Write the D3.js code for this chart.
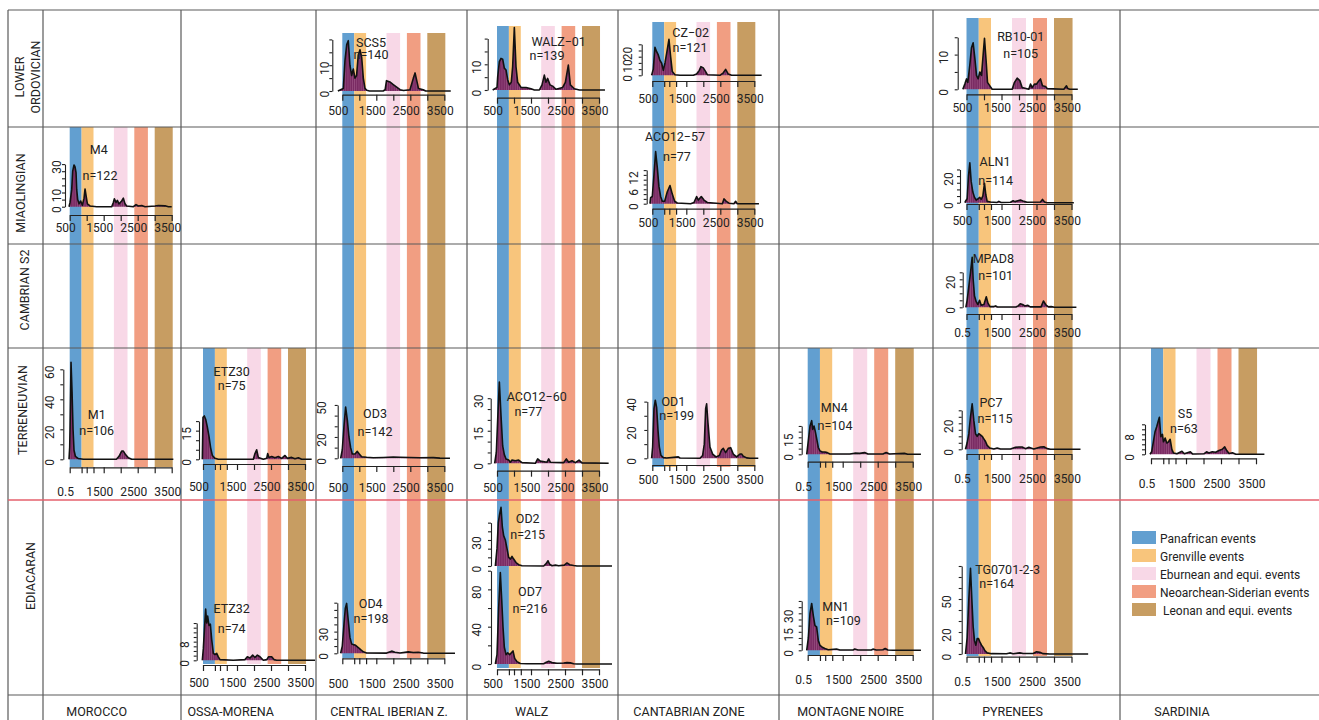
<!DOCTYPE html>
<html>
<head>
<meta http-equiv="Content-Type" content="text/html; charset=UTF-8">
<script src="https://cdn.jsdelivr.net/npm/d3@7"></script>
<style>
  html, body { margin: 0; padding: 0; background: #fff; }
  svg { display: block; font-family: Roboto, 'Open Sans', sans-serif; }
</style>
<title>Detrital zircon age spectra</title>
</head>
<body>
<script>
var W = 1319, H = 720;

// ---------------- data ----------------
var regions = ["MOROCCO", "OSSA-MORENA", "CENTRAL IBERIAN Z.", "WALZ", "CANTABRIAN ZONE", "MONTAGNE NOIRE", "PYRENEES", "SARDINIA"];
var periods = [["LOWER", "ORDOVICIAN"], ["MIAOLINGIAN"], ["CAMBRIAN S2"], ["TERRENEUVIAN"], ["EDIACARAN"]];
var events = ["Panafrican events", "Grenville events", "Eburnean and equi. events", "Neoarchean-Siderian events", " Leonan and equi. events"];
var eventRanges = [[500, 850], [850, 1200], [1800, 2200], [2400, 2800], [3000, 3530]];
var xTickValues = [500, 1000, 1500, 2000, 2500, 3000, 3500];
var xTickExtra = [850, 1200];
var xLabelValues = [500, 1500, 2500, 3500];

var sampleNames = ["SCS5", "WALZ\u221201", "CZ\u221202", "RB10-01", "M4", "ACO12\u221257", "ALN1", "MPAD8", "M1", "ETZ30", "OD3",
  "ACO12\u221260", "OD1", "MN4", "PC7", "S5", "ETZ32", "OD4", "OD2", "OD7", "MN1", "TG0701-2-3"];
var sampleN = [140, 139, 121, 105, 122, 77, 114, 101, 106, 75, 142, 77, 199, 104, 115, 63, 74, 198, 215, 216, 109, 164];
var xFirstLabel = ["500", "500", "500", "500", "500", "500", "500", "0.5", "0.5", "500", "500",
  "500", "500", "0.5", "0.5", "0.5", "500", "500", "500", "500", "0.5", "0.5"];
var yTickStep = [5, 5, 5, 5, 5, 2, 5, 5, 10, 5, 10, 5, 10, 5, 5, 2, 2, 10, 10, 20, 5, 10];
var yTickMax = [20, 20, 25, 15, 30, 14, 25, 25, 60, 20, 50, 30, 40, 25, 30, 12, 16, 70, 50, 100, 40, 80];
var yTickLabels = [[0, 10], [0, 10], [0, 10, 20], [0, 10], [0, 10, 30], [0, 6, 12], [0, 20], [0, 20], [0, 20, 40, 60], [0, 15], [0, 20, 50],
  [0, 15, 30], [0, 20, 40], [0, 15], [0, 20], [0, 8], [0, 8], [0, 30], [0, 30], [0, 40, 80], [0, 15, 30], [0, 20, 50]];

// age (Ma), probability density (as plotted)
var kdeSCS5 = [[370,0],[530,1],[580,12],[630,18],[676,19.5],[725,10],[775,6],[824,8.5],[873,5],[920,6],[970,14],[1020,16],[1070,13],[1118,5],[1167,1],[1220,0.3],[1300,0],[1700,0],[1760,0.5],[1800,4],[1900,3.5],[2000,2.5],[2100,1.5],[2200,0.5],[2300,0.2],[2490,0.5],[2590,5],[2640,7],[2690,4],[2740,1],[2880,0.5],[2950,0],[3690,0]];
var kdeWALZ01 = [[373,0],[500,1],[520,5],[569,11],[618,12.3],[667,12],[716,8.5],[765,7.8],[814,4],[863,2],[920,3],[960,9],[1010,24.3],[1059,9],[1108,3],[1206,1],[1353,1],[1500,0.5],[1600,0],[1745,0],[1824,2],[1892,5.8],[1941,3],[1990,4.5],[2059,2],[2137,1.5],[2235,0.3],[2431,1],[2510,3],[2598,9.7],[2657,2],[2775,0.5],[2922,0],[3676,0]];
var kdeCZ02 = [[480,0],[529,5],[578,22.6],[627,19],[676,16.4],[725,12],[775,9.7],[824,4],[873,10],[922,17.7],[990,29],[1039,15],[1088,3],[1167,0.5],[1314,0],[1706,0],[1804,1],[1882,4],[1931,7],[2000,6],[2069,3],[2118,0.5],[2490,0],[2588,2],[2657,4.8],[2735,1],[2833,0],[3716,0]];
var kdeRB1001 = [[395,0],[452,1.5],[500,3],[538,2],[595,7],[643,12],[690,13.4],[738,9],[786,4],[833,3],[881,5],[929,4],[976,10],[1014,14.7],[1062,8],[1100,2],[1167,1],[1233,0],[1805,0],[1871,2],[1948,3.2],[2024,2.5],[2090,0.5],[2280,0],[2330,1.5],[2376,0.5],[2443,1.5],[2500,1.5],[2557,2.3],[2614,3],[2671,1],[2757,0.8],[2805,0.2],[3281,0],[3357,1],[3395,0.2],[3450,0],[3680,0]];
var kdeM4 = [[480,0],[510,3],[559,12],[588,25],[627,29.4],[657,28],[686,24],[706,12],[735,5],[775,2],[824,4],[873,1],[922,6],[951,12.5],[980,8],[1020,2],[1098,0.5],[1294,0],[1735,0],[1784,3],[1814,5.6],[1863,3],[1902,4.5],[1951,2],[2029,4],[2078,6],[2127,2],[2176,0.5],[2373,0],[2451,1.5],[2520,0.5],[2618,0.8],[2716,0],[3010,0.5],[3108,0.8],[3304,0.6],[3402,0],[3500,0]];
var kdeACO1257 = [[431,0],[451,2.5],[500,3],[549,12],[598,21.7],[647,15],[696,7],[745,3],[794,1],[863,1],[941,5],[1020,7.6],[1088,4],[1157,1],[1235,0.3],[1627,0],[1725,0.5],[1804,3],[1853,1.5],[1941,3],[2020,1.5],[2118,0.5],[2559,0],[2608,2],[2676,1],[2755,0.2],[2900,0],[2951,1],[3000,0],[3637,0]];
var kdeALN1 = [[452,0],[481,1.5],[519,3],[557,20],[595,30],[633,16],[681,8],[729,4],[776,2],[833,3],[881,4],[919,2.5],[967,5],[1014,14.5],[1052,6],[1090,1],[1186,0.5],[1376,0.2],[1424,1],[1490,0.2],[1757,0.3],[1833,1.5],[1881,0.8],[1967,1.5],[2043,2],[2138,1],[2233,0.3],[2614,0.5],[2671,2.5],[2729,0.5],[2805,0],[3567,0]];
var kdeMPAD8 = [[481,0],[519,5],[567,15],[615,25],[662,35.7],[690,20],[729,8],[777,4],[825,2],[873,5],[921,1.5],[998,2],[1065,7.5],[1113,3],[1170,0.5],[1285,0.5],[1333,1],[1381,0.2],[1910,0.2],[1977,1],[2035,2.5],[2102,2],[2169,1],[2246,1.5],[2323,0.3],[2630,0.3],[2698,4.5],[2775,1.5],[2842,0.3],[2919,0.5],[3015,0],[3640,0]];
var kdeM1 = [[480,0],[500,8],[510,20],[539,64.7],[569,45],[598,20],[627,6],[667,2],[755,0.5],[902,0],[1873,0],[1951,2],[2029,5.5],[2078,5.5],[2147,3],[2225,1],[2324,0],[3549,0]];
var kdeETZ30 = [[480,0],[500,22],[539,22.7],[578,21],[627,17],[676,12],[725,6],[775,2],[853,0.5],[951,0],[1980,0],[2029,3],[2078,5],[2127,1],[2275,0],[2373,0.5],[2402,3],[2441,1],[2520,1.5],[2618,0.8],[2716,1.5],[2814,0.5],[2912,2],[2980,0.5],[3108,1],[3206,0.3],[3304,0.8],[3402,0],[3696,0]];
var kdeOD3 = [[451,0],[500,8],[549,30],[598,48],[647,36],[696,20],[745,10],[794,4],[873,4],[941,6.5],[1000,4],[1069,1.5],[1216,1],[1412,0.5],[1706,0.8],[2000,1.2],[2196,1],[2490,0.8],[2784,0.5],[3176,0.6],[3372,0.2],[3667,0]];
var kdeACO1260 = [[431,0],[480,5],[520,20],[569,37.4],[618,22],[667,8],[716,4],[765,2],[843,1.5],[892,0.5],[941,1.5],[1039,1.2],[1137,1.5],[1235,0.3],[1627,0],[1696,2],[1775,1],[1971,0.5],[2020,2],[2069,0.5],[2461,0.3],[2539,2],[2608,0.5],[2706,1.2],[2804,0.3],[2912,1.5],[3000,0.2],[3784,0]];
var kdeOD1 = [[480,0],[510,8],[549,35],[588,41],[627,36],[667,20],[706,8],[755,2],[824,0.5],[922,0.2],[1265,1],[1314,0.2],[1902,0],[1980,2],[2029,10],[2069,35],[2098,38.4],[2137,25],[2196,8],[2275,3],[2373,1],[2471,2],[2539,6],[2588,7],[2657,4],[2735,7],[2804,7.5],[2882,3],[2980,1],[3078,3],[3127,3],[3176,1.5],[3275,0.3],[3373,0],[3618,0]];
var kdeMN4 = [[472,0],[519,12],[566,25],[614,29.7],[642,22],[680,25],[718,20],[755,14],[803,6],[850,3],[916,2],[992,2],[1058,1.5],[1134,0.3],[1701,0.2],[1843,1],[1985,0.8],[2127,1.5],[2221,0.3],[2648,0.2],[2742,1.5],[2837,0.2],[2979,0.5],[3262,0.8],[3357,0],[3735,0]];
var kdePC7 = [[471,0],[519,5],[567,12],[614,25],[662,35],[710,22],[757,12],[805,10],[852,12],[900,11],[948,10],[995,8],[1043,6],[1090,3],[1167,1],[1281,0.3],[1376,1],[1471,0.2],[1757,0.2],[1900,1.5],[1995,1.8],[2090,1.8],[2186,0.5],[2281,1.5],[2424,0.3],[2614,1.8],[2710,2],[2805,0.5],[2900,0],[3757,0]];
var kdeS5 = [[471,0],[519,1],[567,5],[615,9],[663,11],[712,13.5],[740,14.8],[779,7],[827,8],[856,5],[904,6.5],[952,4.5],[1000,5],[1048,6],[1096,2],[1144,0.5],[1240,0.2],[1385,1.2],[1452,0.2],[1625,1],[1692,0.1],[2010,0.2],[2087,1],[2154,0.5],[2250,1],[2346,0.8],[2442,1.5],[2538,2],[2606,3],[2663,1.5],[2731,0.3],[2827,0.6],[2923,0],[3740,0]];
var kdeETZ32 = [[480,0],[510,5],[549,15],[578,22],[608,16],[637,19],[676,15],[716,15.5],[755,9],[804,3],[853,2.5],[902,3],[951,1.5],[1000,0.3],[1392,0],[1735,0.3],[1804,1.5],[1882,1],[1961,2.2],[2029,1.2],[2098,2.2],[2176,1.5],[2275,0],[2373,0.3],[2431,1.5],[2520,1.5],[2588,0.3],[2667,0],[3794,0]];
var kdeOD4 = [[451,0],[500,10],[549,40],[588,62],[627,69],[676,45],[725,22],[774,13],[824,12],[892,11],[970,8],[1039,5],[1118,2],[1216,0.5],[1804,0.3],[1951,3],[2049,1.5],[2196,0.5],[2441,2],[2588,1],[2735,1.5],[2882,0.3],[3176,0],[3814,0]];
var kdeOD2 = [[451,0],[500,20],[539,50],[578,60],[618,67.7],[657,45],[696,35],[745,30],[794,20],[843,10],[892,8],[941,11],[990,8],[1059,4],[1137,1.5],[1235,0.3],[1873,0],[1951,3],[2000,6],[2049,2],[2118,0.3],[2216,1],[2314,0.2],[2480,1],[2559,3.5],[2637,1.5],[2755,0.5],[2853,0],[3882,0]];
var kdeOD7 = [[451,0],[500,10],[549,60],[598,98],[637,70],[676,40],[716,18],[765,10],[814,12],[873,10],[922,12],[971,14],[1020,6],[1088,2.5],[1186,0.5],[1382,0.2],[1873,0.3],[1951,2],[2020,3],[2118,1.5],[2265,0.8],[2461,1],[2559,1.5],[2657,1.2],[2755,0.3],[2853,0],[3882,0]];
var kdeMN1 = [[472,0],[519,10],[566,30],[614,38],[661,28],[708,20],[755,19],[803,8],[850,4],[916,2.5],[992,1.5],[1087,0.5],[1323,1],[1418,0.2],[1796,0.3],[1843,1],[1937,0.2],[2316,0.2],[2364,1],[2459,0.2],[2648,0.5],[2714,1.5],[2790,0.2],[2932,0],[3735,0]];
var kdeTG = [[471,0],[519,15],[567,50],[614,78],[652,50],[690,25],[729,12],[767,8],[805,14],[843,14],[881,11],[929,8],[976,6],[1024,3],[1090,1],[1214,0.3],[1643,0.2],[1738,1],[1833,0.3],[2024,1],[2119,0.5],[2405,0.5],[2500,2],[2595,1.5],[2690,0.3],[2881,0],[3976,0]];

var densities = [kdeSCS5, kdeWALZ01, kdeCZ02, kdeRB1001, kdeM4, kdeACO1257, kdeALN1, kdeMPAD8, kdeM1, kdeETZ30, kdeOD3,
  kdeACO1260, kdeOD1, kdeMN4, kdePC7, kdeS5, kdeETZ32, kdeOD4, kdeOD2, kdeOD7, kdeMN1, kdeTG];

// ---------------- layout ----------------
var gridX = [8, 43, 181, 316, 467, 618, 779, 933, 1120];
var gridY = [10, 127, 244, 348, 695];
var redY = 500;
var colX500 = [69.7, 203, 342.3, 497, 652.3, 807.7, 966.5, 1151];
var colPxPerGa = [34, 34, 34, 34, 34, 35, 35, 35];
var bandTop = [127, 348, 33, 26, 22, 348, 18, 348];
var bandBottom = [467, 664, 658, 668, 467, 655, 656, 454];
var colLabelX = [96.7, 230.7, 389, 531.7, 689, 850.5, 1012.5, 1182];
var rowLabelY = [77, 193, 290, 410, 576];
var rowLabelX = [[20, 35.5], [21], [25], [23], [31]];
var eventColors = ["#629fd0", "#f8c57c", "#f8d8e7", "#f19e82", "#c79d62"];

// col, baseline y, px per unit, y-axis offset, x-axis y, x-label y, name x/y, n x/y, extra ticks, y-label gap
var panelLayout = [
  [2, 91, 2.58, 10, 94.7, 110.3, 371, 42.3, 371, 55, false, 8],
  [3, 90, 2.57, 9.3, 97.7, 111, 558.7, 41.7, 547, 56, false, 10.7],
  [4, 75.3, 1.24, 10.6, 81, 98.3, 690.7, 32.8, 690, 48, true, 13.7],
  [6, 89.3, 3.47, 8.8, 94.3, 107.7, 1020.7, 36.7, 1020.7, 54, false, 14.4],
  [0, 206.7, 1.42, 4.7, 215, 228, 98.7, 149.8, 100, 176, false, 8.3],
  [4, 203.7, 2.4, 5.6, 208.7, 222.7, 675, 136.3, 677, 156.3, true, 13.4],
  [6, 202.7, 1.33, 6.5, 204, 221, 995, 161.7, 995.7, 181, true, 11.7],
  [6, 307.3, 1.4, 3.8, 314, 332.3, 993.3, 258.3, 995.7, 275.3, true, 12],
  [0, 459.3, 1.5, 6.4, 467.3, 491.7, 96.7, 415, 96.7, 431, true, 14],
  [1, 459.3, 1.91, 4, 464, 486.7, 231.7, 371.7, 231.7, 385.7, true, 12.3],
  [2, 458.3, 1.067, 4.6, 466, 487.7, 375, 413.3, 375, 431.3, false, 16],
  [3, 463.3, 2.17, 6.3, 470.7, 488, 536.7, 396.7, 528.3, 411.7, false, 11.7],
  [4, 458.3, 1.417, 5, 465, 480, 673.3, 401.7, 676.7, 416, true, 15.6],
  [5, 454.3, 1.133, 6, 461.7, 486.7, 834.3, 408, 835, 426, true, 13.4],
  [6, 449.3, 1.3, 4.8, 454, 478.3, 991, 403, 995, 418.3, true, 13.4],
  [7, 454.3, 2.5, 6, 458.3, 483.3, 1185, 413.7, 1184, 428.3, true, 15],
  [1, 660.3, 2.33, 6.3, 665, 682.7, 231.7, 609, 231.7, 629, true, 11.7],
  [2, 653.3, 0.723, 5, 658.3, 683.3, 370.7, 603.8, 371, 618.3, true, 14],
  [3, 566, 0.867, 6, null, null, 527.7, 518.3, 527.7, 534.3, false, 14.3],
  [3, 664, 0.933, 6, 669.3, 683.3, 530, 591.3, 530, 608.7, true, 14.3],
  [5, 650.3, 1.233, 6, 655, 680, 835.7, 606.7, 843.3, 621, true, 13.4],
  [6, 654, 1.1, 4.8, 656.7, 681.7, 1007.7, 569.7, 996.7, 583.3, true, 15]
];

var svg = d3.select("body").append("svg").attr("width", W).attr("height", H);
svg.append("rect").attr("width", W).attr("height", H).attr("fill", "#fff");

// histogram-like striped fill
var pat = svg.append("defs").append("pattern").attr("id", "bars")
  .attr("width", 2.2).attr("height", 4).attr("patternUnits", "userSpaceOnUse");
pat.append("rect").attr("width", 2.2).attr("height", 4).attr("fill", "#7a2b63");
pat.append("line").attr("x1", 0.3).attr("x2", 0.3).attr("y1", 0).attr("y2", 4)
  .attr("stroke", "#a5618f").attr("stroke-width", 0.6);

var colScale = colX500.map(function(x0, i) {
  return d3.scaleLinear().domain([500, 3500]).range([x0, x0 + 3 * colPxPerGa[i]]);
});

// event bands, one set per region column
var bands = svg.append("g");
colScale.forEach(function(x, c) {
  bands.selectAll(null).data(eventRanges).enter().append("rect")
    .attr("x", function(d) { return x(d[0]); })
    .attr("width", function(d) { return x(d[1]) - x(d[0]); })
    .attr("y", bandTop[c])
    .attr("height", bandBottom[c] - bandTop[c])
    .attr("fill", function(d, i) { return eventColors[i]; });
});

// table grid
var grid = svg.append("g").attr("stroke", "#5a5a5a").attr("stroke-width", 1.2);
grid.selectAll(null).data(gridX).enter().append("line")
  .attr("x1", function(d) { return d; }).attr("x2", function(d) { return d; })
  .attr("y1", 10).attr("y2", H);
grid.selectAll(null).data(gridY).enter().append("line")
  .attr("x1", 8).attr("x2", W).attr("y1", function(d) { return d; }).attr("y2", function(d) { return d; });
svg.append("line").attr("x1", 8).attr("x2", W).attr("y1", redY).attr("y2", redY)
  .attr("stroke", "#e4606c").attr("stroke-width", 1.5);

// row and column headings
periods.forEach(function(lines, r) {
  lines.forEach(function(t, k) {
    svg.append("text")
      .attr("transform", "translate(" + rowLabelX[r][k] + "," + rowLabelY[r] + ") rotate(-90)")
      .attr("text-anchor", "middle").attr("dy", "0.35em")
      .attr("font-size", 12.5).attr("fill", "#222").text(t);
  });
});
svg.selectAll(null).data(regions).enter().append("text")
  .attr("x", function(d, i) { return colLabelX[i]; }).attr("y", 711.5).attr("dy", "0.35em")
  .attr("text-anchor", "middle").attr("font-size", 12.5).attr("fill", "#222")
  .text(function(d) { return d; });

// sample panels
densities.forEach(function(dens, i) {
  var L = panelLayout[i];
  var x = colScale[L[0]];
  var base = L[1];
  var y = d3.scaleLinear().domain([0, yTickMax[i]]).range([base, base - yTickMax[i] * L[2]]);
  var g = svg.append("g");

  g.append("path").datum(dens)
    .attr("d", d3.area().x(function(d) { return x(d[0]); }).y0(base).y1(function(d) { return y(d[1]); }))
    .attr("fill", "url(#bars)");
  g.append("path").datum(dens)
    .attr("d", d3.line().x(function(d) { return x(d[0]); }).y(function(d) { return y(d[1]); }))
    .attr("fill", "none").attr("stroke", "#111").attr("stroke-width", 1.6).attr("stroke-linejoin", "round");

  // y axis
  var ax = x(500) - L[3];
  var ya = g.append("g").attr("transform", "translate(" + ax + ",0)")
    .call(d3.axisLeft(y).tickValues(d3.range(0, yTickMax[i] + 0.001, yTickStep[i]))
      .tickSize(3).tickSizeOuter(0).tickFormat(""));
  ya.selectAll("path,line").attr("stroke", "#222").attr("stroke-width", 1.1);
  g.selectAll(null).data(yTickLabels[i]).enter().append("text")
    .attr("transform", function(d) { return "translate(" + (ax - L[11]) + "," + (y(d) + 3) + ") rotate(-90)"; })
    .attr("text-anchor", "middle").attr("dy", "0.35em")
    .attr("font-size", 12).attr("fill", "#222")
    .text(function(d) { return d; });

  // x axis
  if (L[4] !== null) {
    var ticks = L[10] ? xTickValues.concat(xTickExtra) : xTickValues;
    var xa = g.append("g").attr("transform", "translate(0," + L[4] + ")")
      .call(d3.axisBottom(x).tickValues(ticks).tickSize(6).tickSizeOuter(0).tickFormat(""));
    xa.selectAll("path,line").attr("stroke", "#222").attr("stroke-width", 1.2);
    g.selectAll(null).data(xLabelValues).enter().append("text")
      .attr("x", function(d) { return x(d) - 4; }).attr("y", L[5]).attr("dy", "0.35em")
      .attr("text-anchor", "middle").attr("font-size", 12).attr("fill", "#222")
      .text(function(d, k) { return k === 0 ? xFirstLabel[i] : d; });
  }

  g.append("text").attr("x", L[6]).attr("y", L[7]).attr("dy", "0.35em")
    .attr("text-anchor", "middle").attr("font-size", 12.5).attr("fill", "#222").text(sampleNames[i]);
  g.append("text").attr("x", L[8]).attr("y", L[9]).attr("dy", "0.35em")
    .attr("text-anchor", "middle").attr("font-size", 12.5).attr("fill", "#222").text("n=" + sampleN[i]);
});

// legend
var legend = svg.append("g").attr("transform", "translate(1132,531)");
var item = legend.selectAll(null).data(events).enter().append("g")
  .attr("transform", function(d, i) { return "translate(0," + i * 18 + ")"; });
item.append("rect").attr("width", 24).attr("height", 13)
  .attr("fill", function(d, i) { return eventColors[i]; });
item.append("text").attr("x", 28).attr("y", 8).attr("dy", "0.3em")
  .attr("font-size", 12).attr("fill", "#222").attr("xml:space", "preserve")
  .text(function(d) { return d; });
</script>
</body>
</html>
